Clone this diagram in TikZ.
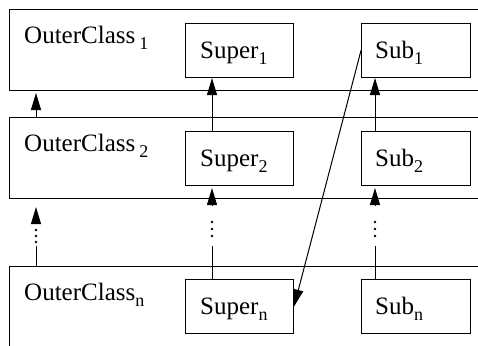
\documentclass[tikz,border=0pt]{standalone}
\usepackage{fontspec}
\setmainfont{Liberation Serif}
\usetikzlibrary{arrows.meta}
% lowered, smaller index after a class name
\newcommand\lowidx[1]{\raisebox{-6.5pt}{\fontsize{18}{18}\selectfont #1}}

\begin{document}
\begin{tikzpicture}[x=1pt,y=-1pt,
  outer/.style={draw, line width=1pt, minimum width=490pt, minimum height=81pt,
                anchor=north west, inner sep=0pt},
  cls/.style={draw, line width=1pt, minimum height=54pt, anchor=north west, inner sep=0pt},
  lbl/.style={anchor=base west, inner sep=0pt, font=\fontsize{25}{30}\selectfont},
  inh/.style={line width=1pt, -{Triangle[length=17pt,width=10pt]}},
  gapline/.style={line width=1pt},
  vdot/.style={fill, circle, inner sep=0pt, minimum size=2.8pt}]
\useasboundingbox (0,0) rectangle (478,345);
\clip (0,0) rectangle (478,345);

% outer classes (open to the right)
\node[outer] (o1) at (9,9) {};
\node[outer] (o2) at (9,117) {};
\node[outer, minimum height=100pt] (on) at (9,266) {};
\node[lbl] (o1t) at (24,43)  {OuterClass\,\lowidx{1}};
\node[lbl] (o2t) at (24,151) {OuterClass\,\lowidx{2}};
\node[lbl] (ont) at (24,300) {OuterClass\lowidx{n}};

% nested classes
\node[cls, minimum width=108pt] (sp1) at (185,23)  {};
\node[cls, minimum width=108pt] (sp2) at (185,131) {};
\node[cls, minimum width=108pt] (spn) at (185,279) {};
\node[cls, minimum width=109pt] (sb1) at (361,23)  {};
\node[cls, minimum width=109pt] (sb2) at (361,131) {};
\node[cls, minimum width=109pt] (sbn) at (361,279) {};
\node[lbl] (sp1t) at (200,58)  {Super\lowidx{1}};
\node[lbl] (sp2t) at (200,166) {Super\lowidx{2}};
\node[lbl] (spnt) at (200,314) {Super\lowidx{n}};
\node[lbl] (sb1t) at (375,58)  {Sub\lowidx{1}};
\node[lbl] (sb2t) at (375,166) {Sub\lowidx{2}};
\node[lbl] (sbnt) at (375,314) {Sub\lowidx{n}};

% columns of the inheritance chains
\coordinate (ca) at (36,0);
\coordinate (cb) at (212,0);
\coordinate (cc) at (375,0);

% level 2 -> level 1
\draw[inh, shorten >=2pt] (ca |- o2.north) -- (ca |- o1.south);
\draw[inh] (cb |- sp2.north) -- (cb |- sp1.south);
\draw[inh] (cc |- sb2.north) -- (cc |- sb1.south);

% level n -> level 2, elided in the middle
\coordinate (oa) at (36,246);
\coordinate (ob) at (36,223);
\draw[gapline] (ca |- on.north) -- (oa);
\foreach \y in {230,236,242} \node[vdot] at (36,\y) {};
\draw[inh, shorten >=8pt] (ob) -- (ca |- o2.south);

\coordinate (pa) at (212,246);
\coordinate (pb) at (212,205);
\draw[gapline] (cb |- spn.north) -- (pa);
\foreach \y in {222,229,236} \node[vdot] at (212,\y) {};
\draw[inh, shorten >=2pt] (pb) -- (cb |- sp2.south);

\coordinate (qa) at (375,246);
\coordinate (qb) at (375,205);
\draw[gapline] (cc |- sbn.north) -- (qa);
\foreach \y in {222,229,236} \node[vdot] at (375,\y) {};
\draw[inh, shorten >=2pt] (qb) -- (cc |- sb2.south);

% cross reference
\draw[inh] (sb1.west) -- (spn.east);
\end{tikzpicture}
\end{document}
